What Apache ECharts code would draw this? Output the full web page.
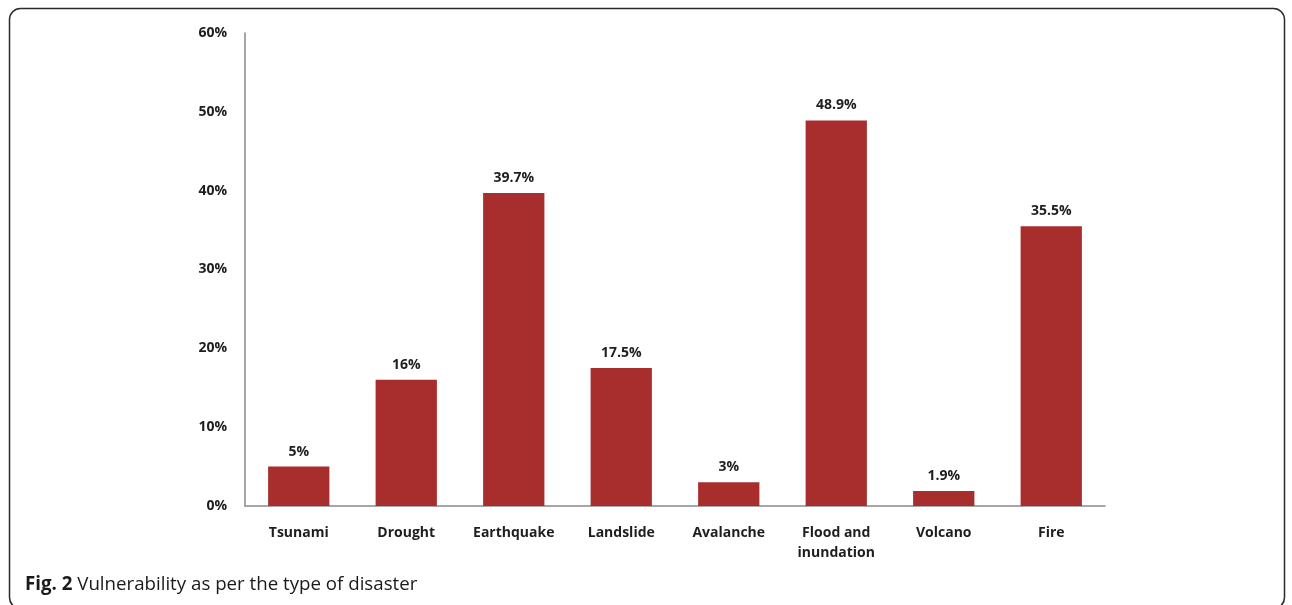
<!DOCTYPE html>
<html>
<head>
<meta charset="utf-8">
<script src="https://cdn.jsdelivr.net/npm/echarts@6/dist/echarts.min.js"></script>
<style>
  html, body { margin: 0; padding: 0; background: #fff; }
  #chart { width: 1292px; height: 605px; }
</style>
</head>
<body>
<div id="chart"></div>
<script>
// Disaster categories and share of respondents reporting vulnerability (%)
const categories = ['Tsunami', 'Drought', 'Earthquake', 'Landslide', 'Avalanche', 'Flood and\ninundation', 'Volcano', 'Fire'];
const vulnerability = [5, 16, 39.7, 17.5, 3, 48.9, 1.9, 35.5];
const yTicks = [0, 10, 20, 30, 40, 50, 60];

const chart = echarts.init(document.getElementById('chart'), null, { renderer: 'canvas' });

const labelFont = { fontFamily: '"Open Sans", sans-serif', fontWeight: 'bold', fontSize: 14, color: '#1e1e1e' };

chart.setOption({
  animation: false,
  backgroundColor: '#ffffff',
  grid: { left: 245, right: 187, top: 33, bottom: 99 },
  xAxis: {
    type: 'category',
    data: categories,
    axisLine: { show: true, lineStyle: { color: '#8a8a8a', width: 1.5 } },
    axisTick: { show: false },
    axisLabel: Object.assign({ margin: 17, lineHeight: 20, interval: 0 }, labelFont)
  },
  yAxis: {
    type: 'value',
    min: yTicks[0],
    max: yTicks[yTicks.length - 1],
    interval: 10,
    splitLine: { show: false },
    axisLine: { show: true, lineStyle: { color: '#8a8a8a', width: 1.5 } },
    axisTick: { show: false },
    axisLabel: Object.assign({ margin: 18, formatter: v => v + '%' }, labelFont)
  },
  series: [{
    type: 'bar',
    data: vulnerability,
    barWidth: '57%',
    itemStyle: { color: '#a82d2d' },
    label: Object.assign({ show: true, position: 'top', distance: 8, formatter: p => p.value + '%' }, labelFont)
  }],
  graphic: [
    {
      type: 'rect',
      shape: { x: 9.5, y: 8.5, width: 1275, height: 600, r: 11 },
      style: { fill: 'none', stroke: '#2a2a2a', lineWidth: 1.5 },
      silent: true
    },
    {
      type: 'text',
      left: 25,
      top: 575,
      style: {
        text: '{b|Fig. 2} Vulnerability as per the type of disaster',
        rich: {
          b: { fontFamily: '"Open Sans", sans-serif', fontWeight: 'bold', fontSize: 18.7, fill: '#1a1a1a' }
        },
        fontFamily: '"Open Sans", sans-serif',
        fontSize: 18.7,
        fill: '#1a1a1a'
      }
    }
  ]
});
</script>
</body>
</html>
